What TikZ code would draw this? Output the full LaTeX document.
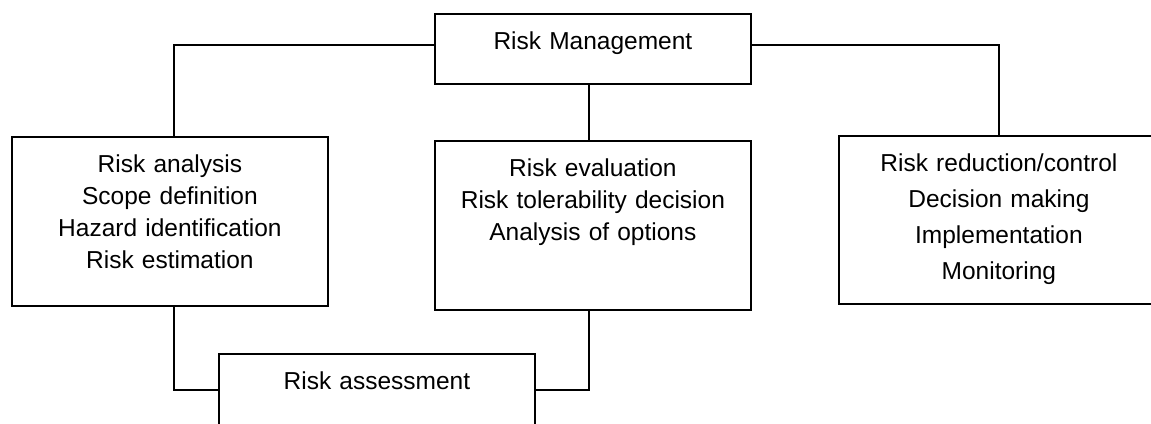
\documentclass[tikz,border=0pt]{standalone}
\usepackage{fontspec}
\setmainfont{Liberation Sans}
\newcommand{\boxfont}{\fontsize{12.25pt}{16pt}\selectfont}
\newcommand{\widefont}{\fontsize{12.25pt}{18pt}\selectfont}
\begin{document}
\begin{tikzpicture}[x=0.5pt,y=-0.5pt]
\tikzstyle{box}=[draw,line width=0.9pt,anchor=north west,inner sep=0pt,align=center,text height=18pt,font=\boxfont]
\tikzstyle{link}=[line width=0.9pt]
\useasboundingbox (0,0) rectangle (1151,423);
\clip (0,0) rectangle (1151,423);

\node[box,text width=158pt,text depth=17pt] at (434,13) (mgmt) {Risk Management};
\node[box,text width=158pt,text depth=66.5pt] at (11,136) (analysis) {Risk analysis\\Scope definition\\Hazard identification\\Risk estimation};
\node[box,text width=158pt,text depth=66.5pt] at (434,140) (evaluation) {Risk evaluation\\Risk tolerability decision\\Analysis of options};
\node[box,text width=160pt,text depth=66pt,font=\widefont] at (838,135) (reduction) {Risk reduction/control\\Decision making\\Implementation\\Monitoring};
\node[box,text width=158pt,text depth=18pt] at (218,353) (assessment) {Risk assessment};

\draw[link] ([yshift=2pt]mgmt.west) -| ([xshift=2pt]analysis.north);
\draw[link] ([yshift=2pt]mgmt.east) -| (reduction.north);
\draw[link] ([xshift=-2pt]mgmt.south) -- ([xshift=-2pt]evaluation.north);
\draw[link] ([xshift=2pt]analysis.south) |- (assessment.west);
\draw[link] ([xshift=-2pt]evaluation.south) |- (assessment.east);
\end{tikzpicture}
\end{document}
